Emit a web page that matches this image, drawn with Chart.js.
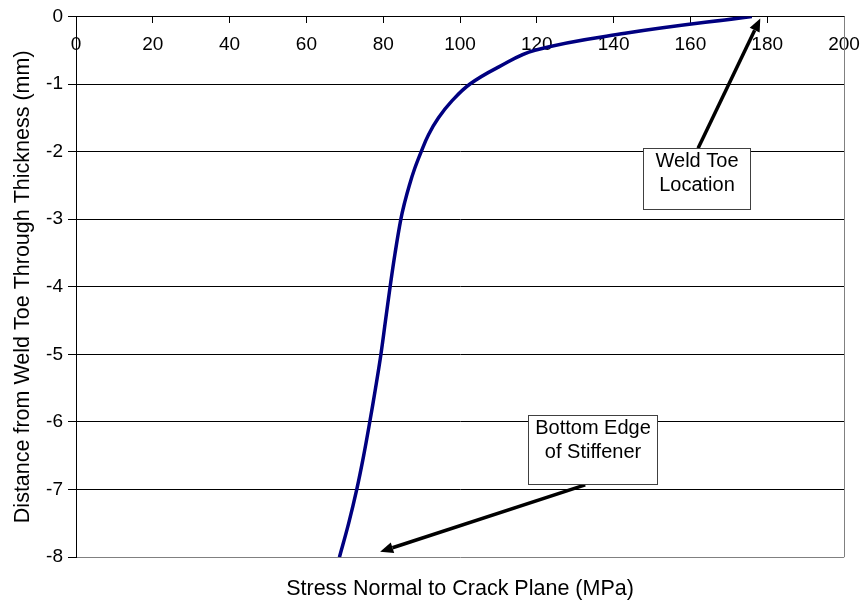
<!DOCTYPE html>
<html>
<head>
<meta charset="utf-8">
<script src="https://cdn.jsdelivr.net/npm/chart.js@4/dist/chart.umd.min.js"></script>
<style>
  html, body { margin: 0; padding: 0; background: #fff; }
  #wrap { width: 862px; height: 602px; }
</style>
</head>
<body>
<div id="wrap"><canvas id="stressChart"></canvas></div>
<script>
// stress (MPa) against depth below the weld toe (mm)
const stressMPa = [176, 143, 119.5, 110, 102.6, 97.9, 94.4, 91.8, 89.9, 88.2, 86.8, 85.6, 84.6, 83.1, 81.8, 80.6, 79.4, 78.0, 76.5, 74.9, 73.1, 71.0, 68.6];
const depthMm = [0, -0.25, -0.5, -0.75, -1, -1.25, -1.5, -1.75, -2, -2.25, -2.5, -2.75, -3, -3.5, -4, -4.5, -5, -5.5, -6, -6.5, -7, -7.5, -8];

const xTitle = "Stress Normal to Crack Plane (MPa)";
const yTitle = "Distance from Weld Toe Through Thickness (mm)";

// callouts, in data units: box [x1, y1, x2, y2], arrow [fromX, fromY, toX, toY]
const noteText = [["Weld Toe", "Location"], ["Bottom Edge", "of Stiffener"]];
const noteBoxes = [[147.7, -1.95, 175.5, -2.85], [117.7, -5.89, 151.3, -6.92]];
const noteArrows = [[162, -1.95, 178.2, -0.03], [132.6, -6.93, 79.2, -7.92]];

const fontFamily = "'Liberation Sans', Arial, sans-serif";

let points = [];
for (let i = 0; i < stressMPa.length; i++) {
    points.push({x: stressMPa[i], y: depthMm[i]});
}

function drawArrow(ctx, x1, y1, x2, y2) {
    let ang = Math.atan2(y2 - y1, x2 - x1);
    let head = 13, half = 5.5;
    let bx = x2 - head * Math.cos(ang), by = y2 - head * Math.sin(ang);
    ctx.beginPath();
    ctx.moveTo(x1, y1);
    ctx.lineTo(bx, by);
    ctx.lineWidth = 3.5;
    ctx.strokeStyle = '#000';
    ctx.stroke();
    ctx.beginPath();
    ctx.moveTo(x2, y2);
    ctx.lineTo(bx + half * Math.sin(ang), by - half * Math.cos(ang));
    ctx.lineTo(bx - half * Math.sin(ang), by + half * Math.cos(ang));
    ctx.closePath();
    ctx.fillStyle = '#000';
    ctx.fill();
}

const notesPlugin = {
    id: 'notes',
    afterDatasetsDraw(chart) {
        const {ctx, chartArea} = chart;
        const xs = chart.scales.x, ys = chart.scales.y;
        ctx.save();
        // right edge of the plot area
        ctx.beginPath();
        ctx.moveTo(Math.round(chartArea.right) + 0.5, chartArea.top);
        ctx.lineTo(Math.round(chartArea.right) + 0.5, chartArea.bottom);
        ctx.lineWidth = 1;
        ctx.strokeStyle = '#808080';
        ctx.stroke();

        for (let i = 0; i < noteBoxes.length; i++) {
            let a = noteArrows[i];
            drawArrow(ctx, xs.getPixelForValue(a[0]), ys.getPixelForValue(a[1]),
                xs.getPixelForValue(a[2]), ys.getPixelForValue(a[3]));
        }
        for (let i = 0; i < noteBoxes.length; i++) {
            let b = noteBoxes[i];
            let left = Math.round(xs.getPixelForValue(b[0])) + 0.5;
            let top = Math.round(ys.getPixelForValue(b[1])) + 0.5;
            let right = Math.round(xs.getPixelForValue(b[2])) + 0.5;
            let bottom = Math.round(ys.getPixelForValue(b[3])) + 0.5;
            ctx.fillStyle = '#fff';
            ctx.fillRect(left, top, right - left, bottom - top);
            ctx.lineWidth = 1;
            ctx.strokeStyle = '#404040';
            ctx.strokeRect(left, top, right - left, bottom - top);
            ctx.fillStyle = '#000';
            ctx.font = '20px ' + fontFamily;
            ctx.textAlign = 'center';
            ctx.textBaseline = 'middle';
            noteText[i].forEach((line, k) => {
                ctx.fillText(line, (left + right) / 2, top + 13 + k * 24);
            });
        }
        ctx.restore();
    }
};

new Chart(document.getElementById('stressChart').getContext('2d'), {
    type: 'scatter',
    data: {
        datasets: [{
            data: points,
            showLine: true,
            borderColor: '#000080',
            borderWidth: 3.5,
            pointRadius: 0,
            tension: 0.4,
            fill: false
        }]
    },
    options: {
        responsive: true,
        maintainAspectRatio: false,
        animation: false,
        layout: {padding: {top: 15, right: 18, left: 0, bottom: 0}},
        plugins: {
            legend: {display: false},
            tooltip: {enabled: false},
            title: {
                display: true,
                position: 'bottom',
                fullSize: false,
                text: xTitle,
                color: '#000',
                font: {family: fontFamily, size: 21.5, weight: 'normal', lineHeight: 1.2},
                padding: {top: 19, bottom: 0}
            }
        },
        scales: {
            x: {
                type: 'linear',
                position: {y: 0},
                min: 0,
                max: 200,
                afterFit: (scale) => { scale.paddingLeft = 0; scale.paddingRight = 0; },
                grid: {drawOnChartArea: false, drawTicks: true, tickLength: 6, tickColor: '#000'},
                border: {color: '#000', width: 1},
                ticks: {
                    stepSize: 20,
                    autoSkip: false,
                    maxRotation: 0,
                    padding: 11,
                    color: '#000',
                    font: {family: fontFamily, size: 19}
                }
            },
            y: {
                type: 'linear',
                position: 'left',
                min: -8,
                max: 0,
                afterFit: (scale) => { scale.width = 76; },
                grid: {
                    color: (c) => (c.tick && c.tick.value === -8) ? '#808080' : '#000',
                    tickColor: '#000',
                    tickLength: 8,
                    lineWidth: 1
                },
                border: {color: '#000', width: 1},
                ticks: {
                    stepSize: 1,
                    padding: 5,
                    color: '#000',
                    font: {family: fontFamily, size: 19}
                },
                title: {
                    display: true,
                    text: yTitle,
                    color: '#000',
                    font: {family: fontFamily, size: 21.5, lineHeight: 1.2},
                    padding: {top: 10, bottom: 0}
                }
            }
        }
    },
    plugins: [notesPlugin]
});
</script>
</body>
</html>
